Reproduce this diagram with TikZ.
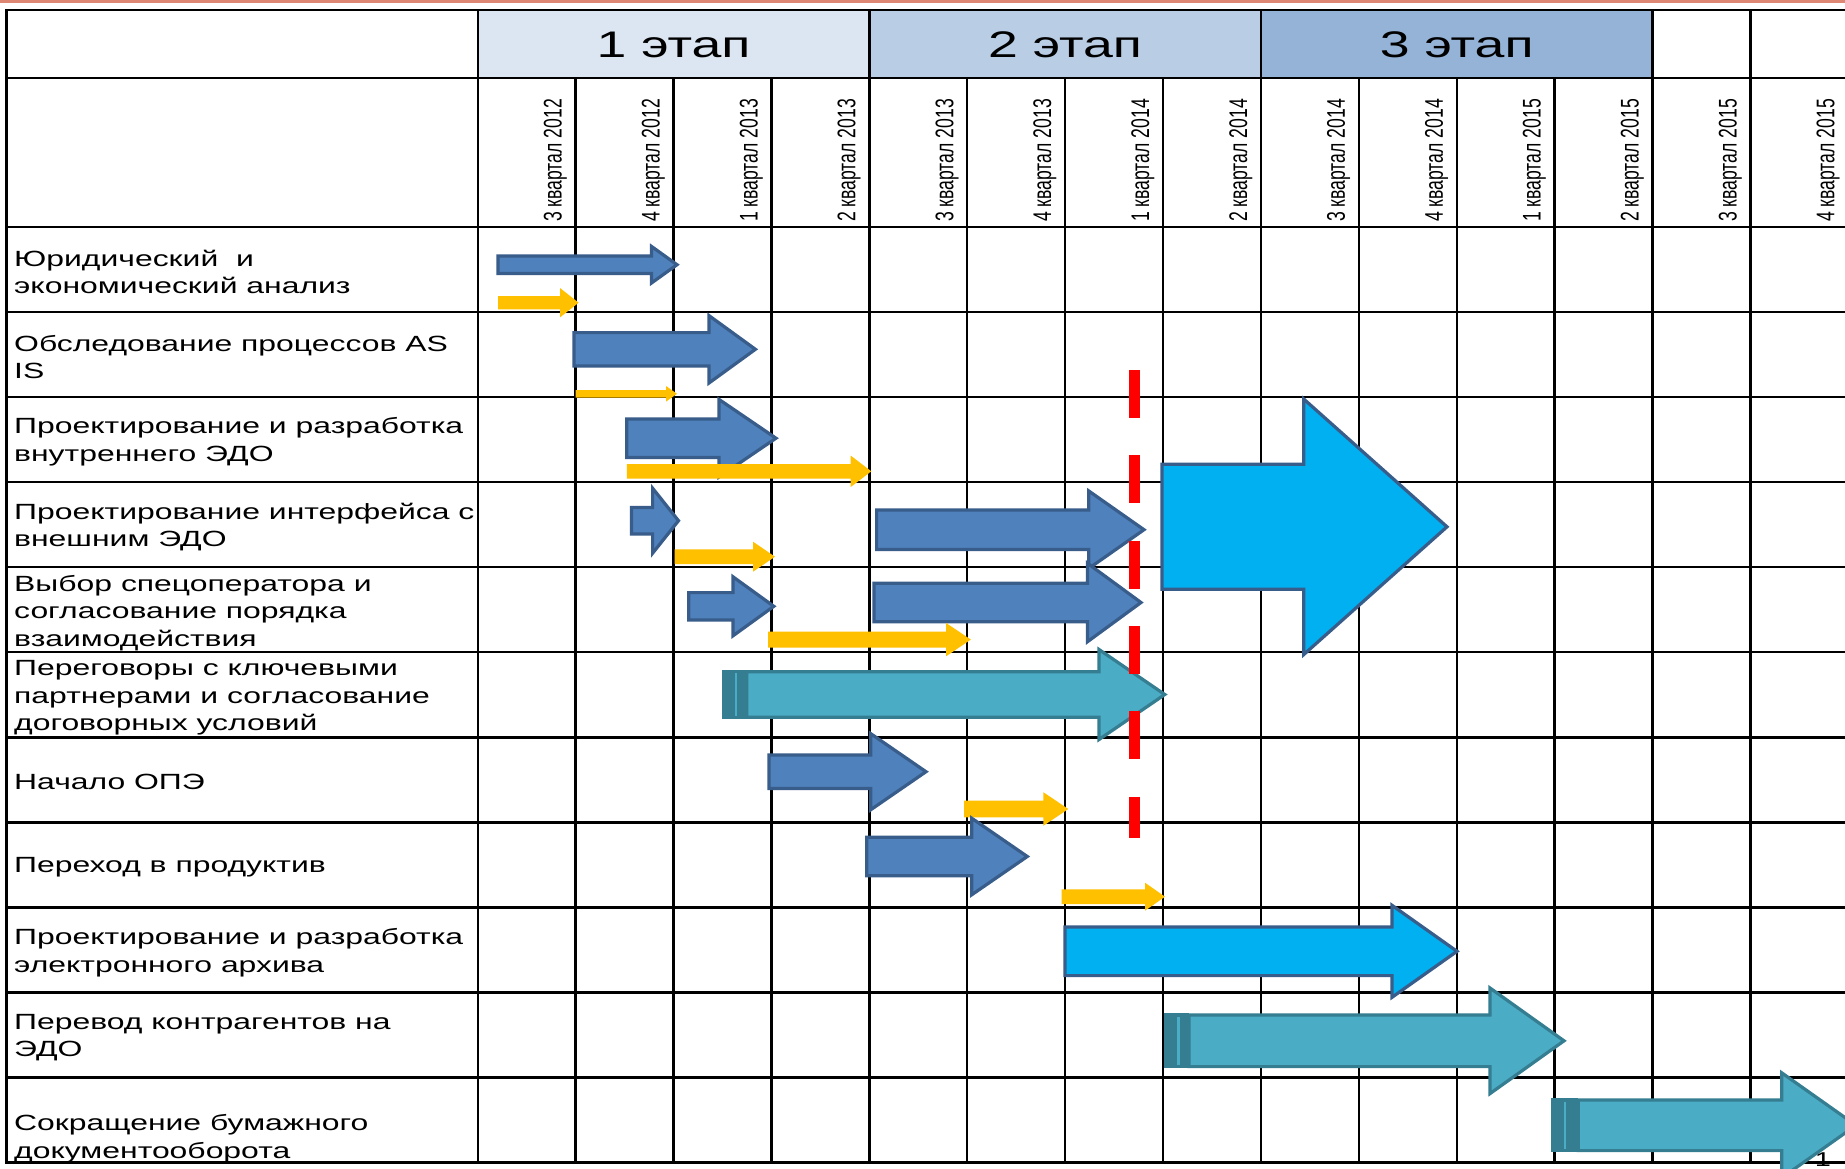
\documentclass[tikz,border=0pt]{standalone}
\usepackage{fontspec}
\setmainfont{Liberation Sans}
\newfontfamily\wide[FakeStretch=1.45]{Liberation Sans}
\definecolor{bluef}{HTML}{4F81BD}
\definecolor{bluel}{HTML}{385D8A}
\definecolor{yel}{HTML}{FFC000}
\definecolor{tealf}{HTML}{4BACC6}
\definecolor{teall}{HTML}{357D91}
\definecolor{cyanf}{HTML}{00B0F0}
\definecolor{stA}{HTML}{DCE6F2}
\definecolor{stB}{HTML}{B9CDE5}
\definecolor{stC}{HTML}{95B3D7}
\definecolor{topred}{RGB}{222,135,115}
% style, x1 (shaft left), x2 (head back), x3 (tip), yc, half shaft, half head
\newcommand\garr[7]{%
  \path[#1] ({#2},{#5-#6}) -- ({#3},{#5-#6}) -- ({#3},{#5-#7}) -- ({#4},{#5})
    -- ({#3},{#5+#7}) -- ({#3},{#5+#6}) -- ({#2},{#5+#6}) -- cycle;}
% striped arrow: x0 (stripe start), x1 (body start), x2, x3, yc, hs, hh
\newcommand\sarr[7]{%
  \fill[teall] ({#1},{#5-#6-1.6}) rectangle ({#2},{#5+#6+1.6});
  \fill[tealf] ({#1+13},{#5-#6+1.6}) rectangle ({#1+15.5},{#5+#6-1.6});
  \garr{tarr}{#2}{#3}{#4}{#5}{#6}{#7}}
\begin{document}
\begin{tikzpicture}[x=1pt,y=-1pt,
  gridline/.style={line width=2.4pt, line cap=rect},
  barr/.style={fill=bluef, draw=bluel, line width=3.2pt, line join=miter},
  yarr/.style={fill=yel},
  tarr/.style={fill=tealf, draw=teall, line width=3.2pt, line join=miter},
  carr/.style={fill=cyanf, draw=bluel, line width=3.2pt, line join=miter},
  reddash/.style={draw=red, line width=11.5pt, dash pattern=on 48pt off 37.3pt},
  stg/.style={inner sep=0pt, font=\wide\fontsize{37}{42}\selectfont},
  qlab/.style={rotate=90, anchor=base west, inner sep=0pt, font=\fontsize{17.6}{20}\selectfont},
  rl/.style={anchor=west, align=left, inner sep=0pt, font=\wide\fontsize{22}{27.7}\selectfont}]
\path[use as bounding box] (0,0) rectangle (1845,1168);
\clip (0,0) rectangle (1845,1168);
\fill[white] (0,0) rectangle (1845,1168);
\fill[topred] (0,0) rectangle (1845,2.5);
% stage header fills
\fill[stA] (477.7,9.8) rectangle (869.3,77.7);
\fill[stB] (869.3,9.8) rectangle (1260.9,77.7);
\fill[stC] (1260.9,9.8) rectangle (1652.5,77.7);
% grid
\foreach \y in {9.8,77.7,227,312.05,397.1,482.15,567.2,652.25,737.3,822.35,907.4,992.45,1077.5,1162.55}
  \draw[gridline] (6.5,\y) -- (1850,\y);
\foreach \x in {6.5,477.7,869.3,1260.9,1652.5,1750.4,1848.3}
  \draw[gridline] (\x,9.8) -- (\x,1162.55);
\foreach \x in {575.6,673.5,771.4,967.2,1065.1,1163.0,1358.8,1456.7,1554.6}
  \draw[gridline] (\x,77.7) -- (\x,1162.55);
% stage titles
\node[stg] (s1) at (673.5,45) {1 этап};
\node[stg] (s2) at (1065.1,45) {2 этап};
\node[stg] (s3) at (1456.7,45) {3 этап};
% quarter labels
\foreach \k/\t in {0/3 квартал 2012,1/4 квартал 2012,2/1 квартал 2013,3/2 квартал 2013,
  4/3 квартал 2013,5/4 квартал 2013,6/1 квартал 2014,7/2 квартал 2014,
  8/3 квартал 2014,9/4 квартал 2014,10/1 квартал 2015,11/2 квартал 2015,
  12/3 квартал 2015,13/4 квартал 2015}
  \node[qlab] (q\k) at ({561.7+97.9*\k},222) {\scalebox{1}[1.45]{\t}};
% row labels
\node[rl] (l1) at (14,272) {Юридический~ и\\экономический анализ};
\node[rl] (l2) at (14,357) {Обследование процессов AS\\IS};
\node[rl] (l3) at (14,442) {Проектирование и разработка\\внутреннего ЭДО};
\node[rl] (l4) at (14,527) {Проектирование интерфейса с\\внешним ЭДО};
\node[rl] (l5) at (14,613) {Выбор спецоператора и\\согласование порядка\\взаимодействия};
\node[rl] (l6) at (14,698) {Переговоры с ключевыми\\партнерами и согласование\\договорных условий};
\node[rl] (l7) at (14,782.3) {Начало ОПЭ};
\node[rl] (l8) at (14,867.4) {Переход в продуктив};
\node[rl] (l9) at (14,952.5) {Проектирование и разработка\\электронного архива};
\node[rl] (l10) at (14,1037.5) {Перевод контрагентов на\\ЭДО};
\node[rl] (l11) at (14,1138.5) {Сокращение бумажного\\документооборота};
% arrows
\garr{barr}{498}{651.5}{677}{264.7}{8.7}{18.3}
\garr{yarr}{498}{560}{578.6}{302.7}{6.7}{14.7}
\garr{barr}{574}{709}{755.4}{349.3}{16.7}{33.7}
\garr{yarr}{575.7}{666}{677}{393.8}{3.8}{7.8}
\garr{barr}{626.8}{719}{776}{438.2}{19.2}{38.8}
\garr{yarr}{626.8}{850.7}{871.3}{471.3}{7.3}{15.7}
\garr{barr}{631.4}{652.6}{678.5}{520.7}{13.3}{32.5}
\garr{yarr}{674.5}{753}{775}{556.7}{7.3}{15}
\garr{barr}{876.6}{1088.7}{1144}{529.7}{19.7}{38.8}
\garr{barr}{688.8}{733}{773.8}{606.3}{13.7}{29.5}
\garr{barr}{874}{1087.5}{1141}{602.5}{19.2}{39.2}
\garr{yarr}{768}{946}{970.8}{639.6}{7.9}{16.7}
\garr{carr}{1162}{1303.7}{1447}{526.8}{62.5}{127.8}
\sarr{721.7}{746.7}{1099}{1164.8}{694.5}{22.8}{45}
\garr{barr}{769}{870.8}{926}{771.7}{16.7}{38}
\garr{yarr}{964}{1043.3}{1068.3}{809}{8.3}{16.8}
\garr{barr}{866.7}{971.7}{1027.3}{856.5}{19.2}{38.3}
\garr{yarr}{1061.7}{1145}{1165}{896.7}{7.3}{14}
\garr{carr}{1065}{1392}{1457}{951.3}{24.3}{46}
\sarr{1164}{1189}{1490}{1564}{1040.8}{25.8}{52.8}
\sarr{1550.7}{1578.3}{1781.7}{1856}{1125.3}{25.3}{52.5}
% red milestone line
\coordinate (rtop) at (1134.5,370);
\coordinate (rbot) at (1134.5,838.3);
\draw[reddash] (rtop) -- (rbot);
% page number
\node[anchor=base, inner sep=0pt, font=\wide\fontsize{20}{24}\selectfont] (pg) at (1823,1166.5) {1};
\end{tikzpicture}
\end{document}
